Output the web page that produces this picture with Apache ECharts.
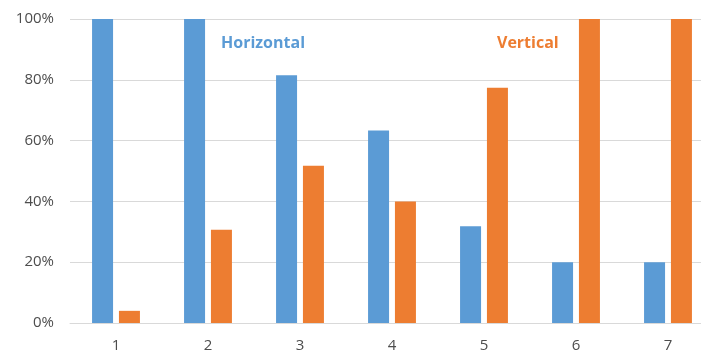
<!DOCTYPE html>
<html>
<head>
<meta charset="utf-8">
<script src="https://cdn.jsdelivr.net/npm/echarts@6/dist/echarts.min.js"></script>
<style>
  html, body { margin: 0; padding: 0; background: #fff; }
  #chart { width: 701px; height: 353px; }
</style>
</head>
<body>
<div id="chart"></div>
<script>
// Share of horizontal vs vertical per category (percent)
const categories = ['1', '2', '3', '4', '5', '6', '7'];
const horizontal = [100, 100, 81.5, 63.3, 31.8, 20, 20];
const vertical = [4, 30.7, 51.7, 40, 77.4, 100, 100];
const yTicks = [0, 20, 40, 60, 80, 100];

const chart = echarts.init(document.getElementById('chart'));
const fontFamily = '"Open Sans", "Liberation Sans", sans-serif';

chart.setOption({
  animation: false,
  // plot area runs slightly past the right edge of the canvas
  grid: {
    left: 70, width: 644, top: 19, height: 304,
    containLabel: false, outerBoundsMode: 'none'
  },
  xAxis: {
    type: 'category',
    data: categories,
    axisTick: { show: false },
    axisLine: { lineStyle: { color: '#D9D9D9', width: 1 } },
    axisLabel: { color: '#4D4D4D', fontSize: 15, fontFamily, margin: 15 }
  },
  yAxis: {
    type: 'value',
    min: yTicks[0],
    max: yTicks[yTicks.length - 1],
    interval: yTicks[1] - yTicks[0],
    axisLine: { show: false },
    axisTick: { show: false },
    splitLine: { lineStyle: { color: '#D9D9D9', width: 1 } },
    axisLabel: { color: '#4D4D4D', fontSize: 15, fontFamily, margin: 16, formatter: '{value}%' }
  },
  series: [
    {
      name: 'Horizontal',
      type: 'bar',
      data: horizontal,
      barWidth: 21,
      barGap: '28%',
      itemStyle: { color: '#5B9BD5' }
    },
    {
      name: 'Vertical',
      type: 'bar',
      data: vertical,
      barWidth: 21,
      itemStyle: { color: '#ED7D31' }
    }
  ],
  graphic: [
    {
      type: 'text', left: 221, top: 35,
      style: { text: 'Horizontal', fill: '#5B9BD5', font: 'bold 16px ' + fontFamily }
    },
    {
      type: 'text', left: 497, top: 35,
      style: { text: 'Vertical', fill: '#ED7D31', font: 'bold 16px ' + fontFamily }
    }
  ]
});
</script>
</body>
</html>
